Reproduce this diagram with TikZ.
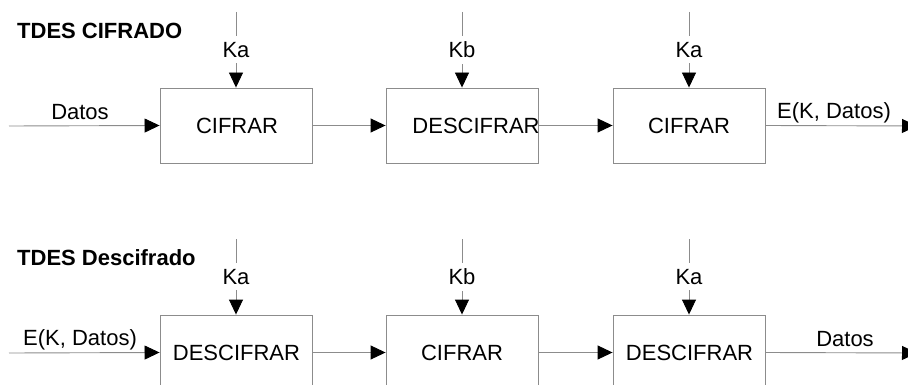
\documentclass[tikz,border=0pt]{standalone}
\usepackage{fontspec}
\setmainfont{Liberation Sans}
\usetikzlibrary{arrows.meta}
\begin{document}
\begin{tikzpicture}[x=1pt,y=-1pt,
  every node/.style={font=\fontsize{22}{26}\selectfont, inner sep=0pt},
  blk/.style={draw=gray!90, line width=0.9pt, minimum width=152pt, minimum height=75pt},
  ln/.style={draw=gray!90, line width=0.9pt},
  arr/.style={ln, -{Triangle[length=15pt,width=14pt,fill=black,color=black]}},
  lbl/.style={fill=white, inner xsep=1pt, inner ysep=6pt},
  ttl/.style={font=\fontsize{22}{26}\selectfont\bfseries, anchor=west}]
\useasboundingbox (0,0) rectangle (908,385);
\clip (0,0) rectangle (908,385);
% titles
\node[ttl] (t1) at (17,31) {TDES CIFRADO};
\node[ttl] (t2) at (17,258) {TDES Descifrado};
% top row
\node[blk] (a1) at (236,125.5) {};
\node[blk] (a2) at (462,125.5) {};
\node[blk] (a3) at (689,125.5) {};
\node (a1t) at (237,126) {CIFRAR};
\node (a2t) at (476,126) {DESCIFRAR};
\node (a3t) at (689,126) {CIFRAR};
\coordinate (ain) at (9,126);
\coordinate (aout) at (917,126);
\coordinate (ak1) at (236,12);
\coordinate (ak2) at (462,12);
\coordinate (ak3) at (689,12);
\draw[arr] (ain) -- (a1.west);
\draw[arr] (a1.east) -- (a2.west);
\draw[arr] (a2.east) -- (a3.west);
\draw[arr] (a3.east) -- (aout);
\draw[arr] (ak1) -- (a1.north) node[lbl, pos=0.5] (lk1) {Ka};
\draw[arr] (ak2) -- (a2.north) node[lbl, pos=0.5] (lk2) {Kb};
\draw[arr] (ak3) -- (a3.north) node[lbl, pos=0.5] (lk3) {Ka};
\node (din) at (80,112) {Datos};
\node (dout) at (834,113) {E(K, Datos)};
% bottom row
\node[blk] (b1) at (236,352.5) {};
\node[blk] (b2) at (462,352.5) {};
\node[blk] (b3) at (689,352.5) {};
\node (b1t) at (236.5,353) {DESCIFRAR};
\node (b2t) at (462,353) {CIFRAR};
\node (b3t) at (689.5,353) {DESCIFRAR};
\coordinate (bin) at (9,353);
\coordinate (bout) at (917,353);
\coordinate (bk1) at (236,239);
\coordinate (bk2) at (462,239);
\coordinate (bk3) at (689,239);
\draw[arr] (bin) -- (b1.west);
\draw[arr] (b1.east) -- (b2.west);
\draw[arr] (b2.east) -- (b3.west);
\draw[arr] (b3.east) -- (bout);
\draw[arr] (bk1) -- (b1.north) node[lbl, pos=0.5] (mk1) {Ka};
\draw[arr] (bk2) -- (b2.north) node[lbl, pos=0.5] (mk2) {Kb};
\draw[arr] (bk3) -- (b3.north) node[lbl, pos=0.5] (mk3) {Ka};
\node (ein) at (80,340) {E(K, Datos)};
\node (eout) at (845,339) {Datos};
\end{tikzpicture}
\end{document}
